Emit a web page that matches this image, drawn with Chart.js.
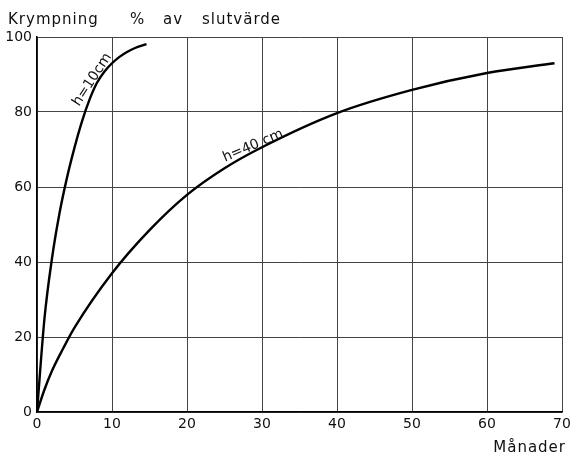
<!DOCTYPE html>
<html>
<head>
<meta charset="utf-8">
<script src="https://cdn.jsdelivr.net/npm/chart.js@4"></script>
<style>
  html, body { margin: 0; padding: 0; background: #fff; }
  #wrap { width: 570px; height: 460px; }
</style>
</head>
<body>
<div id="wrap"><canvas id="chart" width="570" height="460"></canvas></div>
<script>
// h = 10 cm
const months10 = [0, 1, 2, 3, 4, 5, 6, 7, 8, 9, 10, 11, 12, 13, 14.6];
const shrink10 = [0, 25, 41, 53, 62.5, 70.5, 77.5, 83.3, 87.8, 90.8, 93, 94.7, 96, 97, 98.1];
// h = 40 cm
const months40 = [0, 1, 2, 3.5, 5, 10, 15, 20, 25, 30, 40, 50, 60, 69];
const shrink40 = [0, 6, 11, 17, 22.5, 37, 48.5, 57.9, 65, 70.6, 79.7, 85.9, 90.4, 93];

const xTicks = [0, 10, 20, 30, 40, 50, 60, 70];
const yTicks = [0, 20, 40, 60, 80, 100];

const yTitleWords = ["Krympning", "%", "av", "slutvärde"];
const xTitle = "Månader";
const curveLabels = [
    { text: "h=10cm", x: 8.0, y: 87.8, angle: -57 },
    { text: "h=40 cm", x: 29.1, y: 69.6, angle: -23 }
];

const FONT = "'DejaVu Sans', sans-serif";

function toPoints(xs, ys) {
    return xs.map((x, i) => ({ x: x, y: ys[i] }));
}

const textPlugin = {
    id: "texts",
    afterDraw(chart) {
        const ctx = chart.ctx;
        const xs = chart.scales.x;
        const ys = chart.scales.y;
        ctx.save();
        ctx.fillStyle = "#111";
        ctx.font = "15px " + FONT;
        ctx.letterSpacing = "1px";
        ctx.textBaseline = "alphabetic";
        ctx.textAlign = "left";
        // words of the axis title, spread out like the original lettering
        const wordX = [8, 130, 163, 202];
        yTitleWords.forEach((w, i) => ctx.fillText(w, wordX[i], 24));
        ctx.textAlign = "right";
        ctx.fillText(xTitle, 566, 452);
        ctx.letterSpacing = "0px";

        curveLabels.forEach(l => {
            ctx.save();
            ctx.translate(xs.getPixelForValue(l.x), ys.getPixelForValue(l.y));
            ctx.rotate(l.angle * Math.PI / 180);
            ctx.textAlign = "center";
            ctx.textBaseline = "alphabetic";
            ctx.font = "14px " + FONT;
            ctx.fillText(l.text, 0, -2);
            ctx.restore();
        });
        ctx.restore();
    }
};

const ctx = document.getElementById("chart").getContext("2d");
new Chart(ctx, {
    type: "line",
    data: {
        datasets: [
            {
                label: "h=10cm",
                data: toPoints(months10, shrink10),
                borderColor: "#000",
                borderWidth: 2.4,
                pointRadius: 0,
                cubicInterpolationMode: "monotone",
                fill: false
            },
            {
                label: "h=40cm",
                data: toPoints(months40, shrink40),
                borderColor: "#000",
                borderWidth: 2.4,
                pointRadius: 0,
                cubicInterpolationMode: "monotone",
                fill: false
            }
        ]
    },
    options: {
        responsive: false,
        animation: false,
        layout: { padding: { top: 37, right: 8, left: 0, bottom: 0 } },
        plugins: {
            legend: { display: false },
            tooltip: { enabled: false }
        },
        scales: {
            x: {
                type: "linear",
                min: 0,
                max: 70,
                afterBuildTicks: axis => { axis.ticks = xTicks.map(v => ({ value: v })); },
                afterFit: axis => {
                    axis.height = 48;
                    axis.paddingRight = 0;
                    axis.paddingLeft = 0;
                },
                grid: { color: "#444", lineWidth: 1, drawTicks: false },
                border: { color: "#000", width: 1.5 },
                ticks: { color: "#111", font: { family: FONT, size: 14 }, padding: 4, maxRotation: 0 }
            },
            y: {
                type: "linear",
                min: 0,
                max: 100,
                afterBuildTicks: axis => { axis.ticks = yTicks.map(v => ({ value: v })); },
                afterFit: axis => { axis.width = 37; },
                grid: { color: "#444", lineWidth: 1, drawTicks: false },
                border: { color: "#000", width: 1.5 },
                ticks: { color: "#111", font: { family: FONT, size: 14 }, padding: 5 }
            }
        }
    },
    plugins: [textPlugin]
});
</script>
</body>
</html>
